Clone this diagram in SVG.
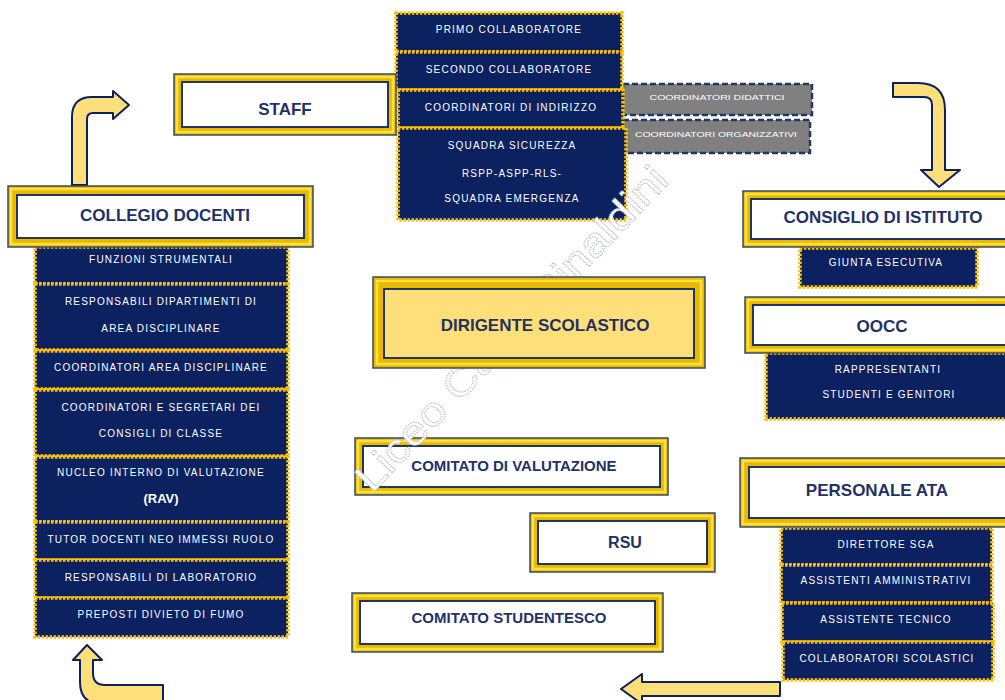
<svg xmlns="http://www.w3.org/2000/svg" width="1005" height="700" viewBox="0 0 1005 700">
<style>
.fo{fill:#ebb800;stroke:#3a4a6a;stroke-width:1.5}
.fh{fill:none;stroke:#ffe23a;stroke-width:2.5}
.fi{fill:#fff;stroke:#1f3566;stroke-width:2}
.fy{fill:#ffdf7a;stroke:#1f3566;stroke-width:2}
.ht{font-family:"Liberation Sans",Arial,sans-serif;font-weight:bold;font-size:17px;fill:#1f3266;text-anchor:middle}
.hs{font-size:15px}
.li{fill:#0b2160;stroke:#ffc000;stroke-width:3.5;stroke-dasharray:2.5 1.5}
.lt{font-family:"Liberation Sans",Arial,sans-serif;font-size:10px;fill:#fff;letter-spacing:1.2px;text-anchor:middle}
.gr{fill:#808080;stroke:#1f3864;stroke-width:2.5;stroke-dasharray:6 3}
.gt{font-family:"Liberation Sans",Arial,sans-serif;font-size:8px;fill:#fff;text-anchor:middle}
.ar{fill:#ffdf7a;stroke:#0a2060;stroke-width:2;stroke-linejoin:round}
.wm{font-family:"Liberation Sans",Arial,sans-serif;font-size:40px;fill:#fff;stroke:#bdbdbd;stroke-width:1;stroke-dasharray:1.5 1}
</style>
<rect width="1005" height="700" fill="#fff"/>

<g id="connectors">
<path class="ar" d="M72,185 L72,117 Q72,97 92,97 L113,97 L113,91 L129,105 L113,119 L113,113 L93,113 Q87,113 87,119 L87,185 Z"/>
<path class="ar" d="M893,83 L918,83 Q945,83 945,110 L945,170 L960,170 L939,187 L921,170 L932,170 L932,105 Q932,97 924,97 L893,97 Z"/>
<path class="ar" d="M163,685 L105,685 Q93,685 93,673 L93,660 L102,660 L87,645 L73,660 L80,660 L80,682 Q80,704 102,704 L163,704 Z"/>
<path class="ar" d="M780,682 L642,682 L642,674 L621,689 L642,704 L642,696 L780,696 Z"/>
</g>

<g id="staff-items">
<g id="coord-didattici"><rect class="gr" x="623" y="84" width="189" height="31"/><text class="gt" x="717" y="100" textLength="135" lengthAdjust="spacingAndGlyphs">COORDINATORI  DIDATTICI</text></g>
<g id="coord-organizzativi"><rect class="gr" x="623" y="120" width="187" height="33"/><text class="gt" x="716" y="137" textLength="162" lengthAdjust="spacingAndGlyphs">COORDINATORI ORGANIZZATIVI</text></g>
<g id="primo"><rect class="li" x="396" y="13" width="226" height="39"/><text class="lt" x="509" y="33">PRIMO COLLABORATORE</text></g>
<g id="secondo"><rect class="li" x="396" y="52" width="226" height="38"/><text class="lt" x="509" y="73">SECONDO COLLABORATORE</text></g>
<g id="coord-indirizzo"><rect class="li" x="398" y="90" width="225" height="38"/><text class="lt" x="511" y="111">COORDINATORI DI INDIRIZZO</text></g>
<g id="squadra"><rect class="li" x="398" y="128" width="228" height="92"/><text class="lt" x="512" y="149">SQUADRA SICUREZZA</text><text class="lt" x="512" y="177">RSPP-ASPP-RLS-</text><text class="lt" x="512" y="202">SQUADRA EMERGENZA</text></g>
</g>

<g id="staff"><rect class="fo" x="174" y="74" width="222" height="61"/><rect class="fh" x="177" y="77" width="216" height="55"/><rect class="fi" x="182" y="82" width="206" height="45"/><text class="ht" x="285" y="115">STAFF</text></g>

<g id="collegio-items">
<g><rect class="li" x="35" y="247" width="253" height="37"/><text class="lt" x="161" y="263">FUNZIONI STRUMENTALI</text></g>
<g><rect class="li" x="35" y="284" width="253" height="66"/><text class="lt" x="161" y="305">RESPONSABILI DIPARTIMENTI DI</text><text class="lt" x="161" y="332">AREA DISCIPLINARE</text></g>
<g><rect class="li" x="35" y="351" width="253" height="38"/><text class="lt" x="161" y="371">COORDINATORI AREA DISCIPLINARE</text></g>
<g><rect class="li" x="35" y="390" width="253" height="66"/><text class="lt" x="161" y="411">COORDINATORI E SEGRETARI DEI</text><text class="lt" x="161" y="437">CONSIGLI DI CLASSE</text></g>
<g><rect class="li" x="35" y="457" width="253" height="65"/><text class="lt" x="161" y="476">NUCLEO INTERNO DI VALUTAZIONE</text><text class="lt" x="161" y="503" style="font-size:13px;font-weight:bold;letter-spacing:0">(RAV)</text></g>
<g><rect class="li" x="35" y="522" width="253" height="38"/><text class="lt" x="161" y="543">TUTOR DOCENTI NEO IMMESSI RUOLO</text></g>
<g><rect class="li" x="35" y="560" width="253" height="38"/><text class="lt" x="161" y="581">RESPONSABILI DI LABORATORIO</text></g>
<g><rect class="li" x="35" y="598" width="253" height="39"/><text class="lt" x="161" y="618">PREPOSTI  DIVIETO DI FUMO</text></g>
</g>

<g id="collegio"><rect class="fo" x="8" y="186" width="305" height="61"/><rect class="fh" x="11" y="189" width="299" height="55"/><rect class="fi" x="17" y="195" width="287" height="43"/><text class="ht" x="165" y="221">COLLEGIO DOCENTI</text></g>

<g id="giunta"><rect class="li" x="800" y="248" width="177" height="39"/><text class="lt" x="886" y="266">GIUNTA ESECUTIVA</text></g>
<g id="consiglio"><rect class="fo" x="743" y="191" width="280" height="56"/><rect class="fh" x="746" y="194" width="274" height="50"/><rect class="fi" x="751" y="199" width="264" height="40"/><text class="ht" x="883" y="223">CONSIGLIO DI ISTITUTO</text></g>

<g id="rappresentanti"><rect class="li" x="766" y="353" width="250" height="66"/><text class="lt" x="888" y="373">RAPPRESENTANTI</text><text class="lt" x="889" y="398">STUDENTI E GENITORI</text></g>
<g id="oocc"><rect class="fo" x="745" y="297" width="280" height="56"/><rect class="fh" x="748" y="300" width="274" height="50"/><rect class="fi" x="753" y="305" width="264" height="40"/><text class="ht" x="882" y="332">OOCC</text></g>

<g id="ata-items">
<g><rect class="li" x="781" y="528" width="211" height="37"/><text class="lt" x="886" y="548">DIRETTORE SGA</text></g>
<g><rect class="li" x="781" y="565" width="211" height="38"/><text class="lt" x="886" y="584">ASSISTENTI AMMINISTRATIVI</text></g>
<g><rect class="li" x="782" y="603" width="211" height="39"/><text class="lt" x="886" y="623">ASSISTENTE TECNICO</text></g>
<g><rect class="li" x="783" y="642" width="210" height="38"/><text class="lt" x="887" y="662">COLLABORATORI SCOLASTICI</text></g>
</g>
<g id="ata"><rect class="fo" x="740" y="458" width="280" height="69"/><rect class="fh" x="743" y="461" width="274" height="63"/><rect class="fi" x="749" y="467" width="266" height="51"/><text class="ht" x="877" y="496">PERSONALE ATA</text></g>

<g id="comitato-valutazione"><rect class="fo" x="355" y="438" width="313" height="57"/><rect class="fh" x="358" y="441" width="307" height="51"/><rect class="fi" x="363" y="446" width="297" height="41"/><text class="ht hs" x="514" y="471">COMITATO DI VALUTAZIONE</text></g>
<g id="rsu"><rect class="fo" x="530" y="513" width="185" height="59"/><rect class="fh" x="533" y="516" width="179" height="53"/><rect class="fi" x="538" y="521" width="169" height="43"/><text class="ht" x="625" y="548" style="font-size:16px">RSU</text></g>
<g id="comitato-studentesco"><rect class="fo" x="352" y="593" width="311" height="59"/><rect class="fh" x="355" y="596" width="305" height="53"/><rect class="fi" x="360" y="601" width="295" height="43"/><text class="ht hs" x="509" y="623">COMITATO STUDENTESCO</text></g>

<text class="wm" transform="translate(372,494) rotate(-46.3)" textLength="432" lengthAdjust="spacingAndGlyphs">Liceo Carlo Rinaldini</text>

<g id="dirigente"><rect class="fo" x="373" y="277" width="332" height="91"/><rect class="fh" x="377" y="281" width="324" height="83"/><rect class="fy" x="384" y="289" width="310" height="69"/><text class="ht" x="545" y="331">DIRIGENTE SCOLASTICO</text></g>
</svg>
